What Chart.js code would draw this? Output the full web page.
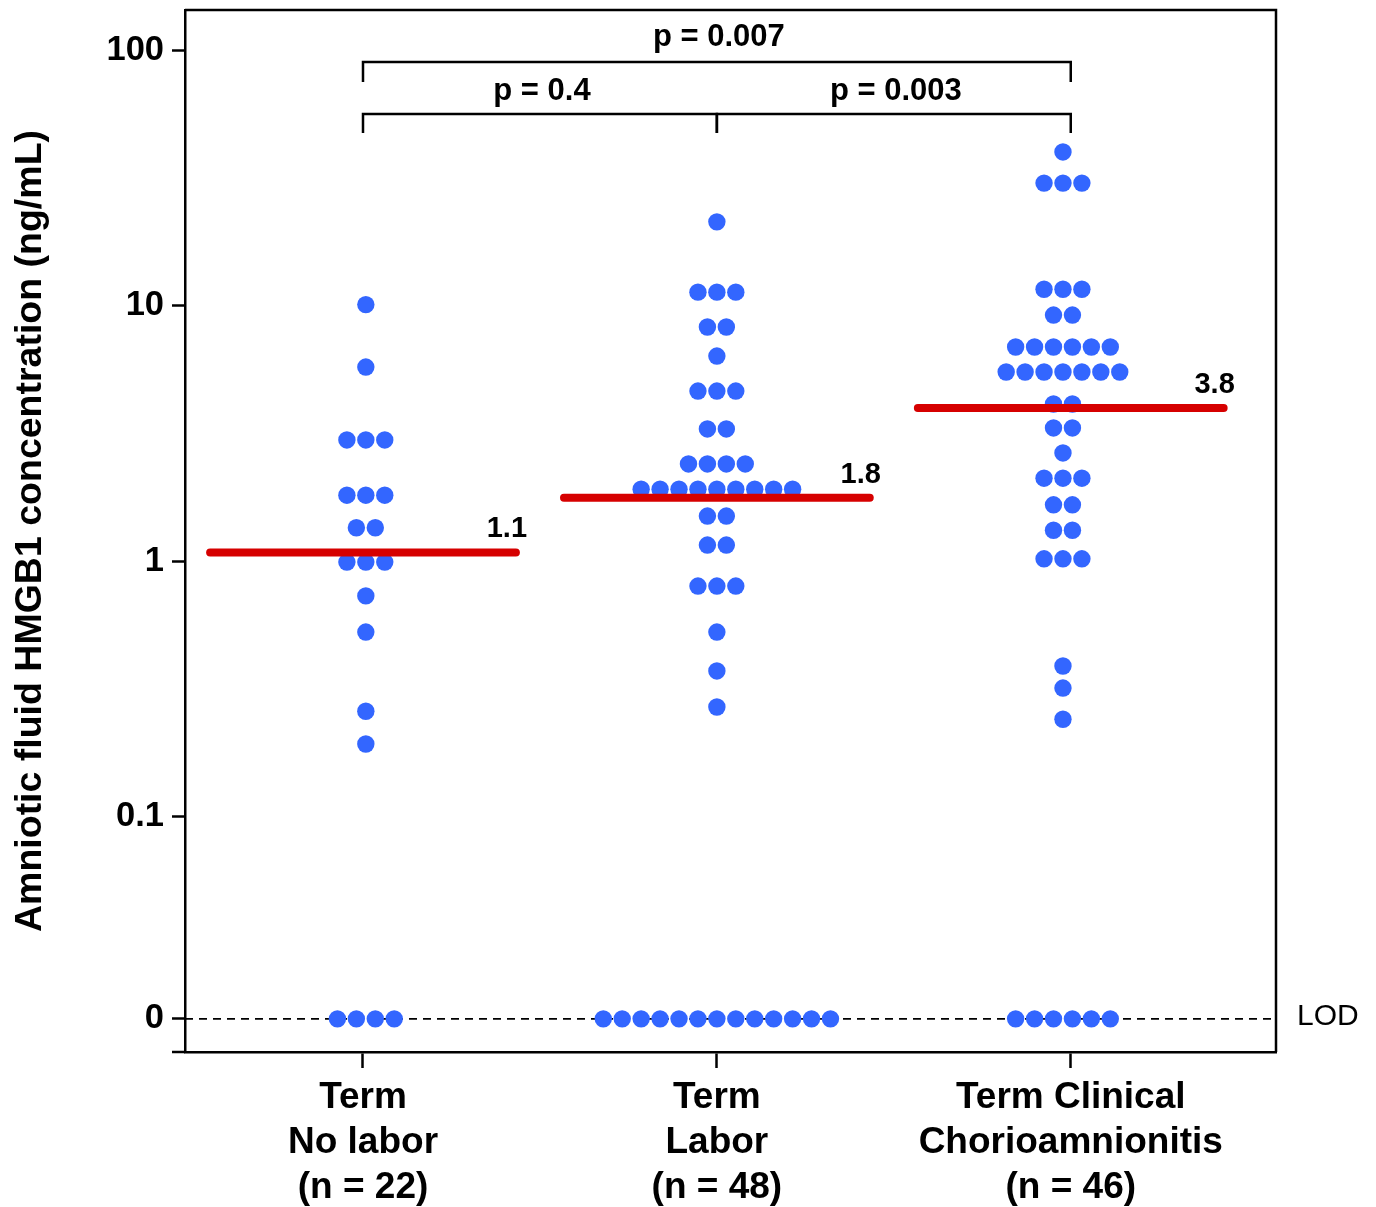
<!DOCTYPE html>
<html><head><meta charset="utf-8">
<script src="https://cdn.jsdelivr.net/npm/chart.js@4.4.1/dist/chart.umd.min.js"></script>
<style>html,body{margin:0;padding:0;background:#fff;}canvas{display:block;}</style>
</head><body>
<canvas id="c" width="1376" height="1207"></canvas>
<script>
// ---------- data ----------
const categories = [
  ['Term', 'No labor', '(n = 22)'],
  ['Term', 'Labor', '(n = 48)'],
  ['Term Clinical', 'Chorioamnionitis', '(n = 46)']
];
// 0 = below limit of detection (plotted on the LOD line)
const noLabor = [10.1, 5.75, 2.98, 2.98, 2.98, 1.81, 1.81, 1.81, 1.35, 1.35,
  0.99, 0.99, 0.99, 0.73, 0.527, 0.258, 0.192, 0, 0, 0, 0];
const labor = [21.3, 11.3, 11.3, 11.3, 8.25, 8.25, 6.35, 4.63, 4.63, 4.63,
  3.29, 3.29, 2.40, 2.40, 2.40, 2.40,
  1.91, 1.91, 1.91, 1.91, 1.91, 1.91, 1.91, 1.91, 1.91,
  1.50, 1.50, 1.155, 1.155, 0.798, 0.798, 0.798, 0.527, 0.371, 0.268,
  0, 0, 0, 0, 0, 0, 0, 0, 0, 0, 0, 0, 0];
const chorio = [40.0, 30.2, 30.2, 30.2, 11.6, 11.6, 11.6, 9.19, 9.19,
  6.89, 6.89, 6.89, 6.89, 6.89, 6.89,
  5.50, 5.50, 5.50, 5.50, 5.50, 5.50, 5.50,
  4.12, 4.12, 3.32, 3.32, 2.65, 2.11, 2.11, 2.11, 1.66, 1.66, 1.32, 1.32,
  1.02, 1.02, 1.02, 0.388, 0.318, 0.240, 0, 0, 0, 0, 0, 0];
const medians = [1.08, 1.77, 3.97];
const medianLabels = ['1.1', '1.8', '3.8'];
const yTickValues = [0, 0.1, 1, 10, 100];
const yTickLabels = ['0', '0.1', '1', '10', '100'];
const comparisons = [
  {from: 0, to: 2, text: 'p = 0.007', level: 0},
  {from: 0, to: 1, text: 'p = 0.4', level: 1},
  {from: 1, to: 2, text: 'p = 0.003', level: 1}
];
const LOD_PLOT = 0.0161;   // where "0" (below LOD) is plotted on the log axis

// ---------- helpers ----------
const FONT = "'Liberation Sans', Arial, Helvetica, sans-serif";
const DOT_STEP = 0.0535;
const SWARM_SHIFT = [0.008, 0, -0.022];
const plotY = v => (v === 0 ? LOD_PLOT : v);
function swarm(values, center) {
  const counts = new Map();
  values.forEach(v => counts.set(v, (counts.get(v) || 0) + 1));
  const pts = [];
  counts.forEach((k, v) => {
    for (let i = 0; i < k; i++) pts.push({x: center + (i - (k - 1) / 2) * DOT_STEP, y: plotY(v)});
  });
  return pts;
}
const groups = [noLabor, labor, chorio];
const dotColor = '#3366ff';
const red = '#d60000';

const datasets = [];
groups.forEach((g, i) => {
  datasets.push({type: 'scatter', data: swarm(g, i + SWARM_SHIFT[i]), backgroundColor: dotColor, borderWidth: 0,
    pointRadius: 8.7, pointHoverRadius: 8.7, order: 2});
});
medians.forEach((m, i) => {
  datasets.push({type: 'line', data: [{x: i - 0.432, y: m}, {x: i + 0.432, y: m}],
    borderColor: red, borderWidth: 8, borderCapStyle: 'round', pointRadius: 0, fill: false, order: 1});
});

const annot = {
  id: 'annot',
  beforeDatasetsDraw(chart) {
    const {ctx, chartArea: a, scales: {y}} = chart;
    const ly = y.getPixelForValue(LOD_PLOT);
    ctx.save();
    ctx.strokeStyle = '#000'; ctx.lineWidth = 1.6; ctx.setLineDash([8, 6]);
    ctx.beginPath(); ctx.moveTo(a.left, ly); ctx.lineTo(a.right, ly); ctx.stroke();
    ctx.restore();
  },
  afterDatasetsDraw(chart) {
    const {ctx, chartArea: a, scales: {x, y}} = chart;
    ctx.save();
    // box top/right
    ctx.strokeStyle = '#000'; ctx.lineWidth = 2.5;
    ctx.beginPath();
    ctx.moveTo(a.left, a.top); ctx.lineTo(a.right, a.top); ctx.lineTo(a.right, a.bottom); ctx.stroke();
    // x axis extension to the left
    ctx.beginPath(); ctx.moveTo(a.left - 13, a.bottom); ctx.lineTo(a.left, a.bottom); ctx.stroke();
    // LOD label
    ctx.fillStyle = '#000';
    ctx.font = '30px ' + FONT; ctx.textAlign = 'left'; ctx.textBaseline = 'middle';
    ctx.fillText('LOD', a.right + 21, y.getPixelForValue(LOD_PLOT) - 2);
    // median labels
    ctx.font = 'bold 29px ' + FONT; ctx.textAlign = 'center';
    medians.forEach((m, i) => {
      ctx.fillText(medianLabels[i], x.getPixelForValue(i + 0.432) - 9, y.getPixelForValue(m) - 23);
    });
    // brackets
    const levels = [{y: a.top + 52, drop: 20, ty: a.top + 27}, {y: a.top + 104, drop: 19, ty: a.top + 81}];
    ctx.font = 'bold 31px ' + FONT;
    comparisons.forEach(c => {
      const L = levels[c.level];
      const x1 = x.getPixelForValue(c.from), x2 = x.getPixelForValue(c.to);
      ctx.beginPath();
      ctx.moveTo(x1, L.y + L.drop); ctx.lineTo(x1, L.y); ctx.lineTo(x2, L.y); ctx.lineTo(x2, L.y + L.drop);
      ctx.stroke();
      ctx.fillText(c.text, (x1 + x2) / 2 + 2, L.ty);
    });
    ctx.restore();
  }
};

new Chart(document.getElementById('c'), {
  data: {datasets},
  options: {
    responsive: false, animation: false, devicePixelRatio: 1,
    layout: {padding: {top: 10, right: 100, left: 0, bottom: 0}},
    plugins: {legend: {display: false}, tooltip: {enabled: false}},
    scales: {
      x: {
        type: 'linear', min: -0.503, max: 2.58,
        afterBuildTicks: s => { s.ticks = [0, 1, 2].map(v => ({value: v})); },
        afterFit: s => { s.height = 155; s.paddingLeft = 0; s.paddingRight = 0; },
        ticks: {callback: v => categories[v], color: '#000', padding: 7, maxRotation: 0, autoSkip: false,
          font: {family: FONT, size: 37, weight: 'bold', lineHeight: 1.22}},
        grid: {drawOnChartArea: false, tickLength: 16, tickColor: '#000', tickWidth: 2.5},
        border: {color: '#000', width: 2.5}
      },
      y: {
        type: 'logarithmic', min: 0.01194, max: 143.9,
        afterBuildTicks: s => { s.ticks = yTickValues.map(v => ({value: plotY(v)})); },
        afterFit: s => { s.width = 185; s.paddingTop = 0; s.paddingBottom = 0; },
        ticks: {callback: (v, i) => yTickLabels[i], color: '#000', padding: 8, autoSkip: false,
          font: {family: FONT, size: 34.5, weight: 'bold'}},
        grid: {drawOnChartArea: false, tickLength: 13, tickColor: '#000', tickWidth: 2.5},
        border: {color: '#000', width: 2.5},
        title: {display: true, text: 'Amniotic fluid HMGB1 concentration (ng/mL)', color: '#000',
          padding: {top: 8, bottom: 0}, font: {family: FONT, size: 37.5, weight: 'bold', lineHeight: 1.2}}
      }
    }
  },
  plugins: [annot]
});
</script>
</body></html>
